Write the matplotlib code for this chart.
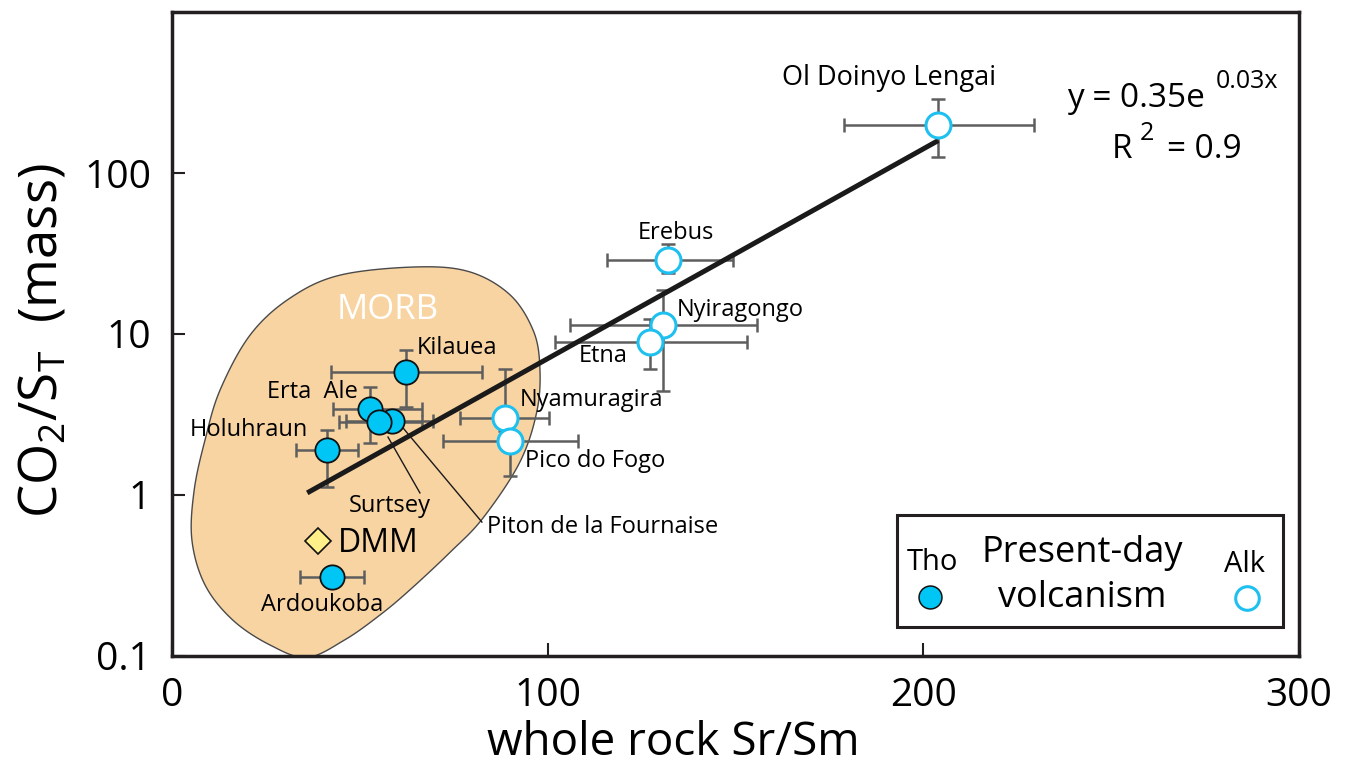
import numpy as np
import matplotlib.pyplot as plt

plt.rcParams['font.family'] = ['Open Sans', 'DejaVu Sans']
plt.rcParams['mathtext.fontset'] = 'custom'
plt.rcParams['mathtext.rm'] = 'Open Sans'

# tholeiitic volcanoes (filled symbols)
tho_names = ['Kilauea', 'Erta Ale', 'Piton de la Fournaise', 'Surtsey', 'Holuhraun', 'Ardoukoba']
tho_x = np.array([62.3, 52.7, 58.5, 55.2, 41.3, 42.5])
tho_y = np.array([5.8, 3.4, 2.9, 2.85, 1.9, 0.31])
tho_x_lo = np.array([42.3, 42.9, 46.3, 44.5, 33.0, 34.1])
tho_x_hi = np.array([82.4, 66.5, 69.5, 66.5, 49.5, 51.1])
tho_y_lo = np.array([3.5, 2.1, 2.6, 2.55, 1.12, 0.31])
tho_y_hi = np.array([8.0, 4.7, 3.2, 3.15, 2.55, 0.31])

# alkaline volcanoes (open symbols)
alk_names = ['Ol Doinyo Lengai', 'Erebus', 'Nyiragongo', 'Etna', 'Nyamuragira', 'Pico do Fogo']
alk_x = np.array([204.0, 132.1, 130.6, 127.2, 88.6, 90.0])
alk_y = np.array([200.0, 29.0, 11.4, 8.9, 3.0, 2.17])
alk_x_lo = np.array([179.0, 115.7, 105.9, 101.9, 76.8, 72.2])
alk_x_hi = np.array([229.4, 149.4, 155.6, 153.0, 100.4, 108.1])
alk_y_lo = np.array([126.0, 23.8, 4.45, 6.1, 2.5, 1.31])
alk_y_hi = np.array([288.0, 36.0, 18.7, 12.4, 6.1, 2.5])

# depleted MORB mantle
dmm_x = [38.9]
dmm_y = [0.52]

# exponential fit y = a * exp(b * x)
fit_a = 0.35
fit_b = 0.03
fit_r2 = 0.9
fit_x_range = [36, 204]

# outline of the MORB field (Sr/Sm, CO2/ST)
morb_x = [65.2, 79.3, 90.0, 96.1, 97.9, 97.2, 92.6, 82.8, 74.0, 63.3, 55.4, 46.0,
          35.9, 26.1, 16.2, 8.8, 5.3, 5.9, 8.8, 12.8, 20.8, 31.4, 44.7]
morb_y = [26.1, 24.3, 17.5, 10.6, 6.4, 3.37, 1.60, 0.72, 0.44, 0.257, 0.18, 0.126,
          0.098, 0.117, 0.167, 0.276, 0.525, 1.07, 2.2, 4.49, 9.86, 16.7, 23.2]

# label placement
tho_label_xy = [(65.2, 8.2), (37.3, 4.37), (83.8, 0.632), (58.0, 0.855), (20.5, 2.54), (39.9, 0.207)]
tho_label_ha = ['left', 'center', 'left', 'center', 'center', 'center']
alk_label_xy = [(190.8, 389), (134.1, 42.4), (134.4, 14.1), (114.7, 7.3), (92.6, 3.89), (94.0, 1.63)]
alk_label_ha = ['center', 'center', 'left', 'center', 'left', 'left']
alk_label_size = [19.5, 17, 17, 17, 17, 17]
leader_lines = {'Surtsey': [(57.5, 2.29), (66.0, 1.03)],
                'Piton de la Fournaise': [(61.5, 2.61), (82.5, 0.679)]}

tho_color = '#00c6f5'
alk_edge = '#1ec0ef'
err_color = '#5e5e5e'
ink = '#231f20'

fig = plt.figure(figsize=(13.48, 7.65), dpi=100)
ax = fig.add_axes([0.1276, 0.1425, 0.836, 0.8418])
ax.set_yscale('log')
ax.set_xlim(0, 300)
ax.set_ylim(0.1, 1000)

# MORB field: closed Catmull-Rom curve through the outline, in (x, log y) space
k = 42.85
P = np.column_stack([morb_x, np.log10(morb_y) * k])
n = len(P)
t = np.linspace(0, 1, 24, endpoint=False)[:, None]
segs = []
for i in range(n):
    p0, p1, p2, p3 = P[i - 1], P[i], P[(i + 1) % n], P[(i + 2) % n]
    segs.append(0.5 * (2 * p1 + (p2 - p0) * t + (2 * p0 - 5 * p1 + 4 * p2 - p3) * t ** 2
                       + (3 * p1 - p0 - 3 * p2 + p3) * t ** 3))
curve = np.vstack(segs)
ax.fill(curve[:, 0], 10 ** (curve[:, 1] / k), facecolor='#f9d4a3', edgecolor='#4a4a4a',
        lw=1.0, zorder=1)
ax.text(57.5, 14.1, 'MORB', color='white', fontsize=25, ha='center', va='center', zorder=2)

# error bars
ax.errorbar(tho_x, tho_y, xerr=[tho_x - tho_x_lo, tho_x_hi - tho_x],
            yerr=[tho_y - tho_y_lo, tho_y_hi - tho_y], fmt='none', ecolor=err_color,
            elinewidth=1.8, capsize=5, capthick=1.8, zorder=2)
ax.errorbar(alk_x, alk_y, xerr=[alk_x - alk_x_lo, alk_x_hi - alk_x],
            yerr=[alk_y - alk_y_lo, alk_y_hi - alk_y], fmt='none', ecolor=err_color,
            elinewidth=1.8, capsize=5, capthick=1.8, zorder=2)

# fit line
fx = np.linspace(fit_x_range[0], fit_x_range[1], 100)
ax.plot(fx, fit_a * np.exp(fit_b * fx), color='#1a1a1a', lw=3.6, solid_capstyle='butt', zorder=3)

# leader lines
for name, pts in leader_lines.items():
    (x0, y0), (x1, y1) = pts
    ax.plot([x0, x1], [y0, y1], color='#1a1a1a', lw=1.0, zorder=3)

# symbols
ax.plot(tho_x, tho_y, 'o', ms=17.5, mfc=tho_color, mec='#111111', mew=1.3, zorder=4)
ax.plot(alk_x, alk_y, 'o', ms=18, mfc='white', mec=alk_edge, mew=2.2, zorder=4)
ax.plot(dmm_x, dmm_y, 'D', ms=13, mfc='#fff08a', mec='#111111', mew=1.2, zorder=4)
ax.text(44.2, 0.503, 'DMM', fontsize=23, ha='left', va='center', zorder=5)

for name, (lx, ly), ha in zip(tho_names, tho_label_xy, tho_label_ha):
    text = 'Erta  Ale' if name == 'Erta Ale' else name
    ax.text(lx, ly, text, fontsize=17, ha=ha, va='center', zorder=5)
for name, (lx, ly), ha, fs in zip(alk_names, alk_label_xy, alk_label_ha, alk_label_size):
    ax.text(lx, ly, name, fontsize=fs, ha=ha, va='center', zorder=5)

# fit equation
ax.text(0.794, 0.8525, 'y = %.2fe' % fit_a, transform=ax.transAxes, fontsize=24, va='baseline')
ax.text(0.926, 0.882, '%.2fx' % fit_b, transform=ax.transAxes, fontsize=18, va='baseline')
ax.text(0.834, 0.773, 'R', transform=ax.transAxes, fontsize=24, va='baseline')
ax.text(0.859, 0.801, '2', transform=ax.transAxes, fontsize=18, va='baseline')
ax.text(0.883, 0.773, '= %.1f' % fit_r2, transform=ax.transAxes, fontsize=24, va='baseline')

# legend box
ax.add_patch(plt.Rectangle((0.6433, 0.045), 0.3425, 0.174, transform=ax.transAxes,
                           fill=False, edgecolor=ink, lw=2.2, zorder=6))
ax.text(0.6744, 0.1444, 'Tho', transform=ax.transAxes, fontsize=21, ha='center', va='center')
ax.text(0.9521, 0.1413, 'Alk', transform=ax.transAxes, fontsize=21, ha='center', va='center')
ax.text(0.8075, 0.160, 'Present-day', transform=ax.transAxes, fontsize=26, ha='center', va='center')
ax.text(0.8075, 0.090, 'volcanism', transform=ax.transAxes, fontsize=26, ha='center', va='center')
ax.plot([0.6726], [0.0916], 'o', transform=ax.transAxes, ms=16.5, mfc=tho_color, mec='#111111', mew=1.1)
ax.plot([0.9539], [0.090], 'o', transform=ax.transAxes, ms=17, mfc='white', mec=alk_edge, mew=2.2)

# axes styling
ax.set_xticks([0, 100, 200, 300])
ax.set_yticks([0.1, 1, 10, 100])
ax.set_yticklabels(['0.1', '1', '10', '100'])
ax.minorticks_off()
ax.tick_params(direction='in', length=9.5, width=1.5, color=ink, labelsize=28, pad=15)
for s in ax.spines.values():
    s.set_linewidth(2.5)
    s.set_color(ink)

ax.set_xlabel('whole rock Sr/Sm', fontsize=33, va='baseline')
ax.xaxis.set_label_coords(0.4445, -0.1537)
ax.set_ylabel(r'CO$_2$/S$_\mathrm{T}$  (mass)', fontsize=38, va='baseline')
ax.yaxis.set_label_coords(-0.102, 0.49)

fig.savefig('out.png', dpi=100)
